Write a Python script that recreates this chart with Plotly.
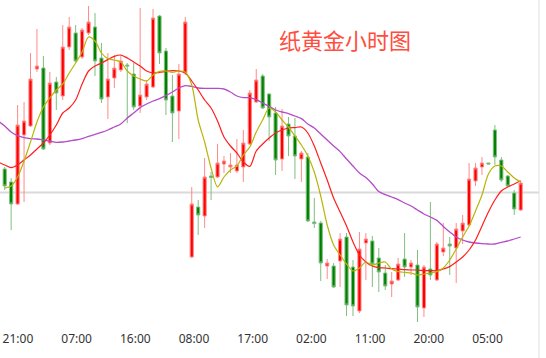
import plotly.graph_objects as go

# ---- data (hourly paper-gold candles, CNY/g) ----
tick_labels = ["21:00", "07:00", "16:00", "08:00", "17:00", "02:00", "11:00", "20:00", "05:00"]

opens = [276.55, 275.90, 274.80, 278.25, 278.70, 281.55, 281.60, 277.85, 280.90, 280.20,
         282.65, 283.35, 282.15, 283.35, 283.65, 282.10, 280.15, 281.10, 281.50, 281.75,
         281.30, 279.70, 280.15, 280.65, 284.20, 282.45, 280.20, 279.45, 281.35, 272.15,
         274.65, 274.20, 276.20, 276.15, 276.80, 276.65, 276.45, 276.65, 277.80, 279.90,
         281.20, 280.30, 279.35, 277.05, 278.80, 278.20, 277.05, 277.15, 273.90, 273.85,
         271.70, 271.70, 271.95, 273.15, 271.65, 269.45, 272.85, 272.95, 272.10, 271.35,
         270.80, 271.00, 272.05, 271.65, 271.75, 269.60, 271.55, 271.00, 272.40, 272.80,
         272.60, 273.45, 273.75, 275.95, 276.65, 276.85, 278.50, 277.00, 276.20, 275.35,
         274.50]
highs = [276.65, 276.10, 279.75, 279.90, 282.35, 283.55, 282.20, 281.40, 281.15, 283.75,
         284.15, 283.75, 283.60, 284.70, 284.35, 282.85, 282.35, 282.25, 282.25, 281.85,
         281.85, 284.60, 281.00, 284.55, 284.25, 282.60, 281.25, 281.80, 284.15, 275.65,
         275.00, 277.10, 276.40, 277.80, 277.20, 277.35, 278.05, 278.50, 280.50, 281.55,
         281.30, 280.35, 279.65, 279.55, 279.15, 279.10, 277.45, 277.35, 275.10, 273.95,
         272.05, 271.85, 273.35, 273.35, 272.00, 273.40, 273.35, 273.20, 272.60, 271.75,
         271.40, 272.10, 273.35, 272.00, 272.50, 271.75, 274.90, 272.90, 273.85, 273.15,
         273.85, 274.25, 276.85, 276.85, 277.15, 276.85, 278.75, 277.15, 276.25, 275.50,
         275.95]
lows = [275.50, 273.50, 274.75, 274.90, 278.65, 281.40, 277.50, 277.75, 279.50, 280.00,
        282.50, 281.90, 282.05, 283.25, 281.20, 279.85, 279.05, 280.60, 281.40, 278.85,
        279.50, 279.35, 280.00, 280.60, 281.80, 279.25, 277.90, 278.05, 281.25, 272.10,
        273.25, 273.60, 275.00, 276.10, 276.35, 276.35, 276.35, 275.90, 277.75, 279.85,
        279.55, 277.95, 276.25, 276.45, 277.20, 276.05, 275.90, 273.90, 273.60, 270.95,
        271.05, 270.60, 270.65, 269.20, 269.20, 269.35, 271.00, 270.65, 270.40, 270.50,
        270.15, 270.95, 271.15, 271.25, 268.90, 269.15, 271.00, 270.95, 272.20, 271.25,
        270.85, 272.80, 273.70, 275.70, 276.25, 276.80, 276.75, 275.90, 275.65, 274.25,
        274.45]
closes = [275.70, 274.80, 278.75, 278.95, 281.05, 281.70, 277.55, 280.85, 280.35, 282.65,
          283.65, 281.95, 283.50, 283.90, 281.95, 280.05, 281.05, 281.60, 281.95, 281.70,
          279.65, 280.25, 280.80, 284.10, 282.35, 280.00, 279.35, 281.30, 283.90, 274.80,
          274.25, 276.15, 276.12, 276.85, 276.95, 276.75, 276.75, 277.85, 280.35, 281.00,
          279.60, 279.15, 277.00, 278.70, 278.20, 277.20, 277.35, 273.95, 273.82, 271.85,
          271.85, 270.65, 273.05, 269.75, 269.70, 272.55, 273.05, 271.80, 271.40, 270.70,
          270.95, 271.80, 271.65, 271.85, 269.65, 271.65, 271.25, 272.80, 272.60, 272.70,
          273.55, 273.85, 276.05, 276.60, 276.85, 276.80, 277.15, 276.00, 275.70, 274.55,
          275.85]

# moving averages (long line starts one bar before the first candle)
ma_long = [278.95, 278.70, 278.40, 278.22, 278.12, 278.07, 278.05, 278.00, 277.95, 277.88,
           277.90, 277.95, 278.00, 278.07, 278.18, 278.28, 278.38, 278.50, 278.65, 278.80,
           279.10, 279.35, 279.62, 279.80, 279.95, 280.07, 280.22, 280.40, 280.60, 280.72,
           280.68, 280.60, 280.58, 280.58, 280.58, 280.55, 280.40, 280.20, 280.12, 280.12,
           280.02, 279.85, 279.68, 279.50, 279.40, 279.32, 279.20, 279.07, 278.80, 278.60,
           278.30, 278.00, 277.70, 277.42, 277.05, 276.70, 276.35, 276.12, 275.80, 275.42,
           275.27, 275.15, 275.02, 274.85, 274.70, 274.50, 274.30, 274.15, 273.98, 273.68,
           273.40, 273.15, 273.00, 272.90, 272.85, 272.82, 272.80, 272.80, 272.88, 272.95,
           273.05, 273.15]
ma_mid = [276.90, 276.75, 276.62, 276.75, 277.00, 277.25, 277.55, 277.85, 278.25, 278.75,
          279.35, 279.60, 280.00, 280.80, 281.45, 281.70, 281.85, 282.02, 282.18, 282.25,
          282.10, 281.90, 281.70, 281.45, 281.35, 281.38, 281.43, 281.47, 281.45, 281.35,
          280.95, 280.50, 280.00, 279.60, 278.95, 278.15, 277.70, 277.35, 276.90, 276.68,
          277.45, 277.80, 278.10, 278.35, 278.50, 278.60, 278.62, 278.65, 278.35, 277.70,
          276.85, 276.00, 275.10, 274.40, 273.70, 272.90, 272.25, 271.90, 271.70, 271.62,
          271.60, 271.57, 271.55, 271.52, 271.50, 271.50, 271.47, 271.47, 271.46, 271.55,
          271.67, 271.90, 272.15, 272.50, 273.00, 273.70, 274.40, 275.00, 275.45, 275.65,
          275.80, 275.96]
ma_short = [275.60, 275.70, 276.15, 276.95, 277.90, 278.90, 279.65, 280.10, 280.50, 280.80,
            281.35, 281.85, 282.40, 283.15, 282.95, 282.35, 282.07, 282.00, 281.90, 281.45,
            281.20, 281.05, 280.95, 281.25, 281.43, 281.45, 281.38, 281.45, 281.40, 280.75,
            279.00, 277.90, 276.60, 275.65, 276.15, 276.50, 276.70, 277.25, 277.65, 278.40,
            279.00, 279.60, 279.40, 279.00, 278.65, 278.20, 277.75, 277.20, 276.40, 275.20,
            273.75, 272.75, 272.25, 271.80, 271.45, 271.60, 271.90, 271.75, 271.85, 271.90,
            271.55, 271.42, 271.38, 271.35, 271.25, 271.30, 271.35, 271.42, 271.60, 272.00,
            272.55, 273.15, 273.70, 274.45, 275.25, 276.30, 276.70, 276.70, 276.40, 276.10,
            275.90]
ref_price = 275.375

n = len(opens)
bars = list(range(n))
bars_ext = list(range(-1, n))

fig = go.Figure()
fig.add_trace(go.Candlestick(
    x=bars, open=opens, high=highs, low=lows, close=closes,
    increasing=dict(fillcolor="#FF0000", line=dict(color="#FF8A8A", width=1)),
    decreasing=dict(fillcolor="#008000", line=dict(color="#7FBF7F", width=1)),
    whiskerwidth=0, showlegend=False, hoverinfo="skip",
))
fig.add_trace(go.Scatter(x=bars_ext, y=ma_long, mode="lines",
                         line=dict(color="rgb(180,75,200)", width=1.3, shape="spline", smoothing=0.8),
                         showlegend=False, hoverinfo="skip"))
fig.add_trace(go.Scatter(x=bars_ext, y=ma_mid, mode="lines",
                         line=dict(color="rgb(255,30,30)", width=1.2, shape="spline", smoothing=0.8),
                         showlegend=False, hoverinfo="skip"))
fig.add_trace(go.Scatter(x=bars, y=ma_short, mode="lines",
                         line=dict(color="rgb(185,180,10)", width=1.2, shape="spline", smoothing=0.8),
                         showlegend=False, hoverinfo="skip"))

fig.add_shape(type="line", xref="paper", x0=0, x1=1, yref="y", y0=ref_price, y1=ref_price,
              line=dict(color="#DADADA", width=2), layer="below")
fig.add_shape(type="line", xref="paper", x0=1, x1=1, yref="paper", y0=-0.09, y1=1,
              line=dict(color="#E0E0E0", width=1), layer="below")

fig.add_annotation(text="纸黄金小时图", xref="paper", yref="paper", x=0.64, y=0.882,
                   xanchor="center", yanchor="middle", showarrow=False,
                   font=dict(family="Noto Sans CJK SC", size=22, color="#FF4D40"))

fig.update_layout(
    width=546, height=358,
    margin=dict(l=0, r=7, t=0, b=28),
    paper_bgcolor="white", plot_bgcolor="white",
    xaxis=dict(range=[-0.729, 82.84], tickmode="array",
               tickvals=[2.05 + 9.1 * k for k in range(len(tick_labels))],
               ticktext=tick_labels, showgrid=False, zeroline=False, showline=False,
               ticks="", rangeslider=dict(visible=False),
               tickfont=dict(family="Noto Sans", size=12, color="#333333")),
    yaxis=dict(range=[268.5, 285], showgrid=False, zeroline=False, showline=False,
               showticklabels=False, ticks=""),
)

fig.write_html("out.html")
